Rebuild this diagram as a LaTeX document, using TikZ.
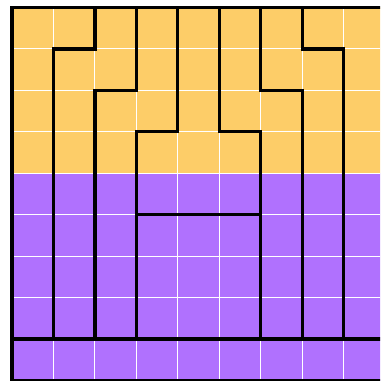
\documentclass[tikz,border=0pt]{standalone}
\definecolor{topfill}{HTML}{FDCD68}
\definecolor{lowfill}{HTML}{B071FE}
\begin{document}
\begin{tikzpicture}[x=1cm,y=1cm,line join=miter]
    \useasboundingbox (-0.29,-0.012) rectangle (8.878,9.18);
    \clip (-0.29,-0.012) rectangle (8.878,9.18);

    % colour bands
    \fill[topfill] (0,5) rectangle (9,9);
    \fill[lowfill] (0,0) rectangle (9,5);

    % cell grid
    \foreach \k in {1,...,8}{
        \draw[white,line width=0.7pt] (\k,0) -- (\k,9);
        \draw[white,line width=0.7pt] (0,\k) -- (9,\k);
    }

    % outline and strokes
    \draw[line width=2.2pt] (9,9) -- (0,9) -- (0,0) -- (9,0);
    \draw[line width=2.2pt] (0,1) -- (9,1);
    \foreach \a/\b/\c in {2/8/1,3/7/2,4/6/3}{
        \draw[line width=2.2pt] (\a,9) -- (\a,\b) -- (\c,\b) -- (\c,1);
    }
    \foreach \a/\b/\c in {5/6/6,6/7/7,7/8/8}{
        \draw[line width=2.2pt] (\a,9) -- (\a,\b) -- (\c,\b) -- (\c,1);
    }
    \draw[line width=2.2pt] (3,4) -- (6,4);
\end{tikzpicture}
\end{document}
